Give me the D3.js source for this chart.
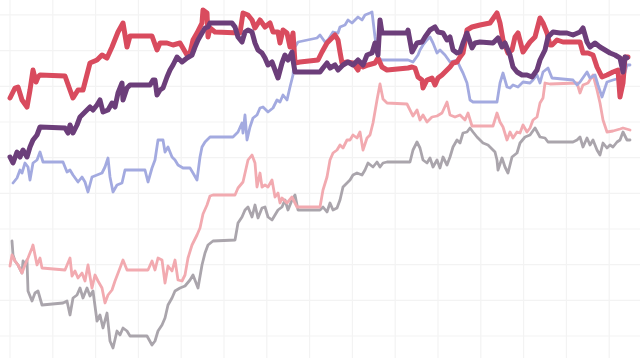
<!DOCTYPE html>
<html>
<head>
<meta charset="utf-8">
<script src="https://cdn.jsdelivr.net/npm/d3@7"></script>
<style>
  html, body { margin: 0; padding: 0; background: #ffffff; }
  svg { display: block; }
</style>
</head>
<body>
<svg id="chart" width="640" height="358"></svg>
<script>
// ---- Data: [step, value] pairs ----
const seriesNames = ["gray", "pink", "blue", "red", "purple"];

const gray = [[2,95],[3,81],[5,75],[8,71],[12,63],[13,75],[15,71],[17,76],[18,45],[22,35],[25,43],[28,45],[32,31],[53,33],[57,35],[60,21],[63,38],[67,41],[70,48],[73,38],[77,48],[80,40],[83,45],[87,15],[90,21],[93,8],[97,23],[100,-5],[103,-12],[107,5],[110,1],[113,8],[117,5],[120,0],[137,0],[142,-9],[145,-5],[148,5],[152,11],[155,18],[158,31],[162,38],[165,45],[170,48],[175,50],[180,56],[183,61],[188,48],[192,71],[195,83],[198,91],[203,95],[225,96],[228,113],[232,119],[235,126],[238,129],[242,119],[245,131],[248,118],[252,128],[255,129],[258,119],[262,116],[265,121],[268,126],[272,129],[275,136],[278,126],[282,136],[285,141],[288,126],[292,126],[310,126],[313,129],[317,124],[320,133],[323,126],[327,128],[330,136],[333,149],[337,153],[340,156],[343,161],[347,163],[352,161],[355,166],[358,173],[363,169],[367,174],[370,169],[373,173],[377,174],[400,174],[403,186],[407,194],[410,188],[413,176],[417,173],[420,178],[423,169],[427,176],[430,168],[433,179],[437,171],[440,179],[443,189],[447,196],[450,193],[453,203],[457,204],[460,208],[463,204],[467,199],[470,196],[473,193],[478,191],[485,184],[487,176],[488,166],[492,178],[495,169],[498,163],[502,179],[507,183],[510,193],[515,199],[520,201],[525,208],[530,199],[535,198],[538,194],[563,194],[567,196],[570,199],[573,189],[577,198],[580,191],[583,196],[587,186],[590,181],[593,193],[597,188],[600,191],[603,189],[607,194],[610,196],[613,204],[617,196],[620,196]];

const pink = [[0,70],[2,81],[5,75],[8,71],[12,63],[15,71],[18,78],[22,88],[23,91],[27,71],[30,78],[32,68],[55,66],[60,78],[62,60],[65,65],[68,58],[72,63],[75,55],[78,71],[82,48],[85,61],[88,55],[92,48],[95,33],[98,41],[102,46],[105,55],[110,68],[113,76],[117,66],[138,66],[142,75],[145,66],[148,78],[152,76],[155,53],[158,70],[162,65],[165,76],[168,56],[172,55],[175,61],[178,78],[182,91],[187,101],[190,108],[193,122],[197,131],[200,140],[203,141],[225,141],[228,148],[233,154],[238,176],[242,181],[245,173],[247,149],[250,163],[252,149],[255,151],[258,149],[262,156],[265,139],[268,143],[270,133],[272,138],[277,133],[282,139],[287,129],[290,129],[310,129],[313,146],[317,159],[320,176],[323,183],[327,186],[330,191],[333,188],[337,196],[340,196],[343,201],[347,198],[350,204],[353,186],[357,198],[360,201],[363,213],[367,236],[370,252],[373,237],[377,233],[397,232],[400,226],[403,220],[407,226],[410,216],[413,221],[417,214],[422,219],[427,220],[432,223],[437,234],[440,221],[445,219],[450,221],[455,216],[458,223],[462,210],[483,210],[487,223],[490,214],[493,209],[497,196],[500,204],[503,198],[507,204],[510,203],[513,211],[517,204],[520,208],[523,216],[527,219],[530,233],[533,238],[535,253],[540,252],[567,253],[570,243],[573,251],[578,253],[583,261],[587,246],[590,233],[593,216],[597,204],[603,205],[610,207],[613,208],[620,206]];

const blue = [[3,153],[7,158],[10,166],[12,163],[15,173],[18,169],[20,156],[23,173],[27,176],[30,184],[33,174],[53,174],[57,164],[60,166],[63,161],[68,154],[72,159],[75,154],[78,144],[82,159],[87,161],[92,163],[95,169],[98,178],[100,159],[103,144],[107,151],[112,153],[115,166],[135,166],[138,154],[142,168],[145,176],[148,196],[153,196],[155,184],[158,189],[162,179],[165,176],[168,171],[173,168],[180,168],[183,163],[187,156],[190,179],[192,189],[195,194],[200,199],[223,199],[228,204],[232,213],[233,203],[235,221],[237,196],[240,209],[243,218],[247,221],[250,228],[253,229],[258,224],[263,228],[267,236],[270,234],[273,241],[277,236],[280,249],[283,261],[285,289],[288,294],[307,298],[310,301],[315,294],[318,296],[323,304],[328,303],[330,309],[335,311],[338,316],[342,313],[345,316],[348,319],[352,316],[355,321],[360,323],[362,324],[365,299],[368,278],[372,276],[398,276],[403,274],[408,281],[410,286],[413,291],[417,296],[420,299],[423,293],[427,283],[430,286],[435,281],[440,274],[447,276],[450,269],[453,263],[457,253],[460,236],[463,234],[487,234],[490,253],[493,263],[497,249],[500,248],[503,251],[508,249],[513,254],[520,253],[523,256],[527,261],[530,253],[533,264],[538,268],[542,258],[563,256],[567,251],[570,254],[577,264],[580,258],[585,261],[588,251],[592,239],[597,254],[603,256],[610,258],[613,256],[617,271],[620,271]];

const red = [[0,238],[5,248],[8,249],[12,236],[17,229],[20,246],[23,266],[26,254],[28,259],[30,261],[55,260],[60,246],[63,238],[68,246],[73,246],[80,273],[87,276],[92,281],[97,278],[102,289],[108,304],[113,313],[117,289],[120,300],[142,300],[147,286],[150,293],[157,293],[163,291],[170,293],[177,281],[180,283],[183,296],[187,303],[192,313],[193,326],[197,323],[198,299],[200,308],[205,304],[230,303],[233,323],[238,321],[242,316],[245,308],[250,316],[255,309],[260,313],[263,304],[268,304],[270,293],[273,306],[277,303],[280,289],[283,303],[285,273],[290,274],[308,276],[312,284],[317,293],[325,301],[328,296],[330,284],[332,273],[337,274],[343,273],[348,266],[350,273],[353,269],[358,271],[365,273],[368,278],[372,269],[377,266],[398,268],[402,269],[405,268],[408,259],[412,256],[413,248],[417,256],[422,258],[425,251],[428,258],[432,261],[437,266],[440,269],[443,273],[447,274],[450,279],[453,283],[457,306],[462,309],[470,311],[480,313],[487,323],[490,313],[493,296],[498,283],[502,286],[505,299],[508,303],[513,284],[520,294],[525,299],[530,318],[533,313],[537,303],[540,291],[542,291],[547,296],[553,294],[570,294],[573,283],[578,283],[583,281],[587,269],[592,259],[597,261],[603,264],[608,266],[610,239],[613,253],[615,279],[618,279]];

const purple = [[0,179],[3,173],[7,184],[10,179],[13,186],[17,179],[20,189],[23,196],[27,201],[30,209],[55,208],[58,203],[60,211],[63,203],[67,211],[70,219],[77,226],[80,229],[83,226],[87,231],[90,236],[93,224],[98,226],[102,233],[105,229],[108,243],[112,253],[113,236],[117,248],[120,251],[140,251],[143,256],[145,256],[147,241],[150,246],[153,248],[157,259],[160,266],[163,271],[167,279],[172,274],[177,278],[182,281],[185,289],[188,296],[192,303],[195,308],[198,309],[200,313],[222,313],[225,309],[228,299],[232,294],[235,304],[238,306],[242,304],[245,293],[248,286],[252,283],[255,278],[258,271],[262,274],[265,266],[268,258],[272,273],[275,281],[278,276],[282,284],[283,276],[285,264],[310,264],[313,268],[317,273],[320,268],[325,271],[328,266],[333,271],[338,274],[343,271],[348,276],[353,271],[357,281],[362,283],[365,293],[368,281],[370,316],[372,303],[397,303],[398,306],[402,284],[407,293],[412,294],[415,299],[420,306],[425,309],[428,304],[433,303],[437,296],[440,299],[443,286],[447,283],[450,284],[453,293],[457,303],[462,288],[465,293],[470,294],[483,293],[488,298],[492,289],[495,293],[500,281],[503,269],[507,264],[512,261],[517,261],[522,259],[527,266],[530,276],[535,286],[538,299],[543,304],[550,303],[557,303],[563,301],[570,304],[573,308],[577,294],[580,289],[585,293],[590,289],[595,286],[600,283],[605,281],[610,278],[613,264],[615,279],[617,278]];

const seriesData = { gray, pink, blue, red, purple };

// ---- Styling ----
const W = 640, H = 358;
const styles = {
  gray:   { color: "#aaa5ac", width: 2.8 },
  pink:   { color: "#f2aab0", width: 2.8 },
  blue:   { color: "#a3aae0", width: 2.8 },
  red:    { color: "#d94b5e", width: 5 },
  purple: { color: "#6c3e7a", width: 5 }
};
const xGridStep = 42.8, yGridStep = 35.67;

const svg = d3.select("#chart");
const x = d3.scaleLinear().domain([0, 620]).range([10, 630]);
const y = d3.scaleLinear().domain([0, 321]).range([336, 15]);

// grid
const xGrid = d3.range(0, 660, xGridStep);
const yGrid = d3.range(-yGridStep, 400, yGridStep);
svg.append("g").selectAll("line").data(xGrid).join("line")
  .attr("x1", d => x(d)).attr("x2", d => x(d))
  .attr("y1", 0).attr("y2", H)
  .attr("stroke", "#f3f3f3").attr("stroke-width", 1.2);
svg.append("g").selectAll("line").data(yGrid).join("line")
  .attr("x1", 0).attr("x2", W)
  .attr("y1", d => y(d)).attr("y2", d => y(d))
  .attr("stroke", "#f3f3f3").attr("stroke-width", 1.2);

const line = d3.line().x(d => x(d[0])).y(d => y(d[1]));

svg.append("g").selectAll("path").data(seriesNames).join("path")
  .attr("d", k => line(seriesData[k]))
  .attr("fill", "none")
  .attr("stroke", k => styles[k].color)
  .attr("stroke-width", k => styles[k].width)
  .attr("stroke-linejoin", "round")
  .attr("stroke-linecap", "round");
</script>
</body>
</html>
